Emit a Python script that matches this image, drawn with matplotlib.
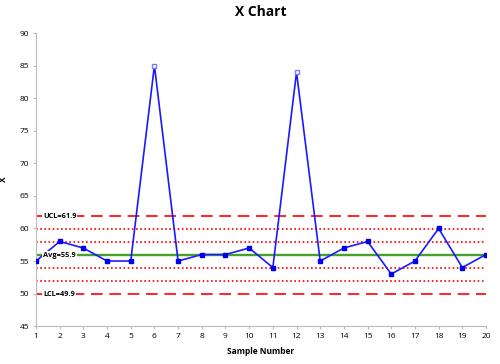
import matplotlib.pyplot as plt
import numpy as np

plt.rcParams['font.family'] = ['Open Sans', 'DejaVu Sans']

samples = list(range(1, 21))
x_values = [55, 58, 57, 55, 55, 85, 55, 56, 56, 57, 54, 84, 55, 57, 58, 53, 55, 60, 54, 56]
out_of_control = [6, 12]
avg = 55.9
ucl = 61.9
lcl = 49.9
zone_lines = [59.9, 57.9, 53.9, 51.9]

fig = plt.figure(figsize=(5, 3.64), dpi=100)
ax = fig.add_axes([0.072, 0.104, 0.9, 0.805])

ax.axhline(ucl, color='red', lw=1.2, ls=(0, (7, 4)), zorder=1)
ax.axhline(lcl, color='red', lw=1.2, ls=(0, (7, 4)), zorder=1)
for z in zone_lines:
    ax.axhline(z, color='red', lw=1.2, ls=(0, (1, 1.5)), zorder=1)
ax.axhline(avg, color='#4aa02c', lw=1.7, zorder=1)

ax.plot(samples, x_values, color='#1a1aff', lw=1.2, zorder=2)
x = np.array(samples)
y = np.array(x_values)
ok = ~np.isin(x, out_of_control)
ax.plot(x[ok], y[ok], ls='none', marker='s', ms=3.5, color='#0000ee', zorder=3)
ax.plot(x[~ok], y[~ok], ls='none', marker='s', ms=3.5, mfc='white',
        mec='#7a7aff', mew=1, zorder=3)

box = dict(facecolor='white', edgecolor='none', pad=0.5)
for val, lab in [(ucl, 'UCL=61.9'), (avg, 'Avg=55.9'), (lcl, 'LCL=49.9')]:
    ax.text(1.3, val, lab, fontsize=5.3, fontweight='bold', va='center',
            ha='left', bbox=box, zorder=4)

ax.set_xlim(1, 20)
ax.set_ylim(45, 90)
ax.set_xticks(samples)
ax.set_yticks(range(45, 91, 5))
ax.tick_params(labelsize=6, length=2, color='#bbbbbb', pad=3)
for s in ['top', 'right']:
    ax.spines[s].set_visible(False)
for s in ['left', 'bottom']:
    ax.spines[s].set_color('#bbbbbb')

ax.set_title('X Chart', fontsize=10, fontweight='bold', pad=12)
ax.set_xlabel('Sample Number', fontsize=6, fontweight='bold', labelpad=5)
ax.set_ylabel('X', fontsize=6, fontweight='bold', labelpad=8)

fig.savefig('out.png')
